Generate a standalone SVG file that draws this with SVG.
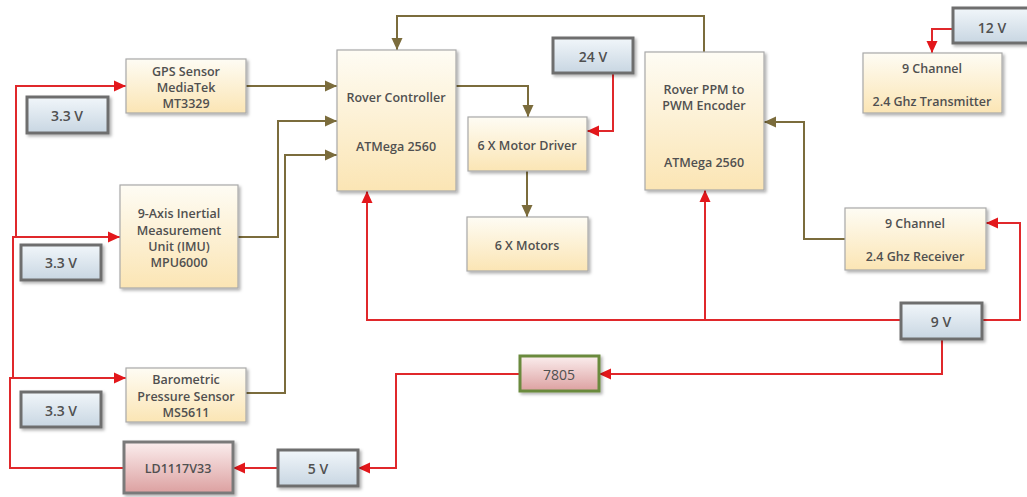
<svg xmlns="http://www.w3.org/2000/svg" width="1027" height="497" viewBox="0 0 1027 497">
<defs>
<linearGradient id="cream" x1="0" y1="0" x2="0" y2="1">
<stop offset="0" stop-color="#fefcf4"/>
<stop offset="1" stop-color="#fbe5b4"/>
</linearGradient>
<linearGradient id="blue" x1="0" y1="0" x2="0" y2="1">
<stop offset="0" stop-color="#f1f6fa"/>
<stop offset="1" stop-color="#c8d6e2"/>
</linearGradient>
<linearGradient id="pink" x1="0" y1="0" x2="0" y2="1">
<stop offset="0" stop-color="#fbeeee"/>
<stop offset="1" stop-color="#dca0a0"/>
</linearGradient>
<filter id="sh" x="-10%" y="-10%" width="130%" height="130%">
<feDropShadow dx="2" dy="2" stdDeviation="1.5" flood-color="#000" flood-opacity="0.3"/>
</filter>
<marker id="ao" markerUnits="userSpaceOnUse" markerWidth="12" markerHeight="12" viewBox="0 0 12 12" refX="12" refY="6" orient="auto">
<path d="M0,0.5 L12,6 L0,11.5 z" fill="#7b6c3c"/>
</marker>
<marker id="ar" markerUnits="userSpaceOnUse" markerWidth="12" markerHeight="12" viewBox="0 0 12 12" refX="12" refY="6" orient="auto">
<path d="M0,0.5 L12,6 L0,11.5 z" fill="#e3171b"/>
</marker>
</defs>
<style>
.n{fill:url(#cream);stroke:#a8a8a8;stroke-width:1.2;filter:url(#sh)}
.v{fill:url(#blue);stroke:#6e6e6e;stroke-width:3;filter:url(#sh)}
.ld{fill:url(#pink);stroke:#7a7a7a;stroke-width:3;filter:url(#sh)}
.rg{fill:url(#pink);stroke:#6a8a3c;stroke-width:3;filter:url(#sh)}
text{font-family:"Open Sans","Liberation Sans",sans-serif;font-size:12.5px;font-weight:600;fill:#505050;text-anchor:middle;dominant-baseline:central}
.vt{font-size:14px}
.o{fill:none;stroke:#7b6c3c;stroke-width:2;marker-end:url(#ao)}
.r{fill:none;stroke:#e0282b;stroke-width:2;marker-end:url(#ar)}
</style>
<g id="connectors">
<path class="o" d="M246 86 H337"/>
<path class="o" d="M238 237 H278 V121 H337"/>
<path class="o" d="M246 393 H285 V155 H337"/>
<path class="o" d="M456 86 H528 V117"/>
<path class="o" d="M527 171 V217"/>
<path class="o" d="M845 239 H804 V122 H764"/>
<path class="o" d="M704 52 V16 H397 V50"/>
<path class="r" d="M124 468 H10 V378 H126"/>
<path class="r" d="M13 378 V237 H120"/>
<path class="r" d="M16 237 V86 H126"/>
<path class="r" d="M278 468 H233"/>
<path class="r" d="M520 374 H396 V468 H358"/>
<path class="r" d="M942 339 V374 H599"/>
<path class="r" d="M901 320 H367 V191"/>
<path class="r" d="M705 320 V190"/>
<path class="r" d="M982 320 H1020 V223 H986"/>
<path class="r" d="M613 73 V131 H587"/>
<path class="r" d="M953 29 H932 V53"/>
</g>
<g id="gps"><rect class="n" x="126" y="59" width="120" height="54"/><text x="186" y="71">GPS Sensor</text><text x="186" y="87">MediaTek</text><text x="186" y="103">MT3329</text></g>
<g id="imu"><rect class="n" x="120" y="185" width="118" height="103"/><text x="179" y="213">9-Axis Inertial</text><text x="179" y="230">Measurement</text><text x="179" y="246">Unit (IMU)</text><text x="179" y="262">MPU6000</text></g>
<g id="baro"><rect class="n" x="126" y="368" width="120" height="54"/><text x="186" y="379">Barometric</text><text x="186" y="396">Pressure Sensor</text><text x="186" y="412">MS5611</text></g>
<g id="rover"><rect class="n" x="337" y="50" width="119" height="141"/><text x="396" y="97">Rover Controller</text><text x="396" y="146">ATMega 2560</text></g>
<g id="driver"><rect class="n" x="468" y="117" width="119" height="54"/><text x="527" y="145">6 X Motor Driver</text></g>
<g id="motors"><rect class="n" x="467" y="217" width="121" height="54"/><text x="527" y="245">6 X Motors</text></g>
<g id="ppm"><rect class="n" x="645" y="52" width="119" height="138"/><text x="704" y="89">Rover PPM to</text><text x="704" y="105">PWM Encoder</text><text x="704" y="162">ATMega 2560</text></g>
<g id="tx"><rect class="n" x="863" y="53" width="139" height="60"/><text x="932" y="68">9 Channel</text><text x="932" y="101">2.4 Ghz Transmitter</text></g>
<g id="rx"><rect class="n" x="845" y="208" width="141" height="62"/><text x="915" y="223">9 Channel</text><text x="915" y="256">2.4 Ghz Receiver</text></g>
<g id="v33a"><rect class="v" x="27" y="97" width="81" height="36"/><text class="vt" x="67" y="115">3.3 V</text></g>
<g id="v33b"><rect class="v" x="21" y="245" width="80" height="35"/><text class="vt" x="61" y="262">3.3 V</text></g>
<g id="v33c"><rect class="v" x="21" y="392" width="80" height="35"/><text class="vt" x="61" y="410">3.3 V</text></g>
<g id="v24"><rect class="v" x="553" y="38" width="80" height="35"/><text class="vt" x="593" y="56">24 V</text></g>
<g id="v12"><rect class="v" x="953" y="8" width="80" height="35"/><text class="vt" x="992" y="27">12 V</text></g>
<g id="v9"><rect class="v" x="901" y="303" width="81" height="36"/><text class="vt" x="941" y="321">9 V</text></g>
<g id="v5"><rect class="v" x="278" y="450" width="80" height="36"/><text class="vt" x="318" y="468">5 V</text></g>
<g id="ld1117"><rect class="ld" x="124" y="442" width="109" height="51"/><text x="178" y="468">LD1117V33</text></g>
<g id="reg7805"><rect class="rg" x="520" y="356" width="79" height="35"/><text x="559" y="374" style="font-weight:400;font-size:14px">7805</text></g>
</svg>
